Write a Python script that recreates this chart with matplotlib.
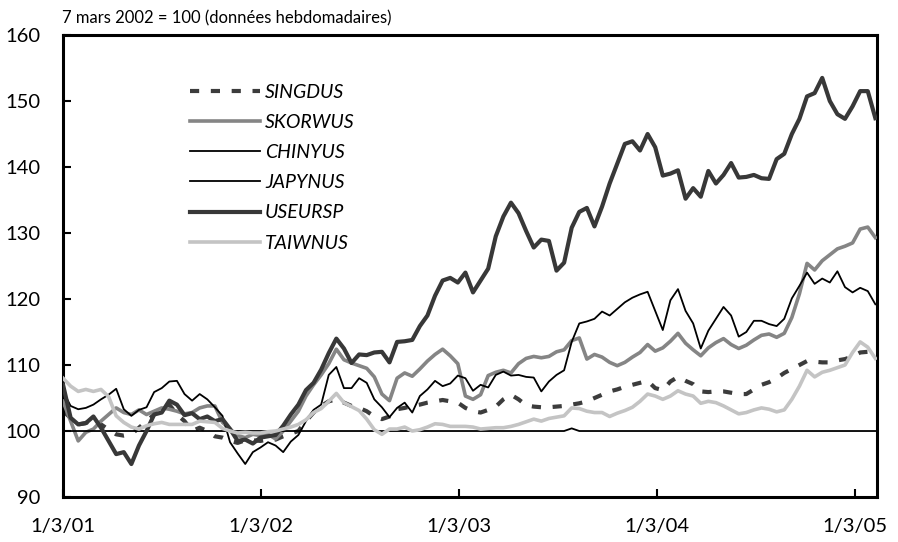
import matplotlib
matplotlib.use("Agg")
import matplotlib.pyplot as plt
import pandas as pd

# données bimensuelles (base 7 mars 2002 = 100)
dates = pd.date_range("2001-03-01", periods=108, freq="14D")

singdus = [103, 102, 101, 101.2, 101.8, 101, 100.2, 99.5, 99.3, 99.5,
           100.5, 101.5, 102.5, 103.5, 104, 102.5, 101.5, 100, 100.5, 100,
           99.2, 99, 98.5, 98.2, 98.6, 98.6, 98.5, 98.7, 98.7, 99.2,
           99.6, 100, 101.5, 102.8, 103.8, 104.5, 104.8, 104.3, 103.8, 103.5,
           103, 102.2, 101.8, 102.2, 103.3, 103.5, 103.8, 104, 104.3, 104.5,
           104.7, 104.5, 104.3, 103.5, 103, 102.8, 103.2, 103.7, 104.8, 105.5,
           104.8, 103.9, 103.7, 103.6, 103.6, 103.7, 103.8, 104, 104.2, 104.5,
           105, 105.5, 106, 106.3, 106.7, 107, 107.3, 107.6, 106.5, 106.2,
           107.5, 108.2, 107.6, 107.1, 106, 105.9, 106, 106, 105.8, 105.6,
           105.6, 106.3, 107, 107.4, 108, 108.8, 109.4, 110, 110.6, 110.5,
           110.4, 110.4, 110.7, 110.9, 111.3, 111.9, 112, 111.5]

skorwus = [104.5, 101.5, 98.5, 99.8, 100.3, 101.5, 102.5, 103.5, 102.8, 102.5,
           103.2, 102.5, 103, 103.5, 103.3, 103, 102.6, 102.8, 103.5, 103.8,
           103.8, 101.3, 100.3, 99.3, 99, 99.5, 99.3, 99.5, 98.8, 100,
           101.5, 103, 105.3, 107, 108.5, 110.2, 112.4, 110.8, 110.3, 109.9,
           109.5, 108.2, 105.6, 104.6, 108, 108.8, 108.3, 109.4, 110.6, 111.6,
           112.4, 111.4, 110.2, 105.3, 104.8, 105.5, 108.4, 108.9, 109.2, 108.8,
           110.2, 111, 111.3, 111.1, 111.3, 112, 112.3, 113.7, 114.1, 110.9,
           111.6, 111.2, 110.4, 109.9, 110.4, 111.2, 111.9, 113.1, 112.1, 112.6,
           113.6, 114.8, 113.3, 112.3, 111.4, 112.6, 113.4, 114, 113.1, 112.5,
           113, 113.8, 114.5, 114.7, 114.2, 114.8, 117.2, 120.8, 125.4, 124.4,
           125.8, 126.7, 127.6, 128, 128.5, 130.6, 130.9, 129.3]

chinyus = [100.0, 100.0, 100.0, 100.0, 100.0, 100.0, 100.0, 100.0, 100.0, 100.0,
           100.0, 100.0, 100.0, 100.0, 100.0, 100.0, 100.0, 100.0, 100.0, 100.0,
           100.0, 100.0, 100.0, 100.0, 100.0, 100.0, 100.0, 100.0, 100.0, 100.0,
           100.0, 100.0, 100.0, 100.0, 100.0, 100.0, 100.0, 100.0, 100.0, 100.0,
           100.0, 100.0, 100.0, 100.0, 100.0, 100.0, 100.0, 100.0, 100.0, 100.0,
           100.0, 100.0, 100.0, 100.0, 100.0, 100.0, 100.0, 100.0, 100.0, 100.0,
           100.0, 100.0, 100.0, 100.0, 100.0, 100.0, 100.0, 100.4, 100.0, 100.0,
           100.0, 100.0, 100.0, 100.0, 100.0, 100.0, 100.0, 100.0, 100.0, 100.0,
           100.0, 100.0, 100.0, 100.0, 100.0, 100.0, 100.0, 100.0, 100.0, 100.0,
           100.0, 100.0, 100.0, 100.0, 100.0, 100.0, 100.0, 100.0, 100.0, 100.0,
           100.0, 100.0, 100.0, 100.0, 100.0, 100.0, 100.0, 100.0]

japynus = [106, 103.8, 103.3, 103.5, 104, 104.8, 105.5, 106.4, 103.3, 102.3,
           103.2, 103.6, 105.9, 106.5, 107.5, 107.6, 105.6, 104.6, 105.6, 104.8,
           103.6, 102.3, 98.3, 96.6, 95, 96.8, 97.5, 98.3, 97.8, 96.8,
           98.4, 99.4, 101.5, 103.2, 104, 108.5, 109.7, 106.5, 106.5, 108,
           107.3, 104.8, 103.6, 102.1, 103.5, 104.3, 102.8, 105.3, 106.3, 107.6,
           106.8, 107.2, 108.4, 108, 106.1, 107, 106.6, 108.5, 109, 108.4,
           108.5, 108.2, 108.1, 106, 107.5, 108.5, 109.2, 113.5, 116.3, 116.6,
           117, 118.1, 117.5, 118.5, 119.5, 120.2, 120.7, 121.1, 118.2, 115.3,
           119.8, 121.5, 118.2, 116.3, 112.5, 115.2, 117, 118.8, 117.5, 114.3,
           115, 116.7, 116.7, 116.2, 115.9, 117, 120.1, 122, 124, 122.3,
           123.1, 122.5, 124.2, 121.8, 121, 121.7, 121.2, 119.2]

useursp = [107, 102, 101, 101.2, 102.2, 100.5, 98.5, 96.5, 96.8, 95,
           97.8, 100, 102.5, 102.8, 104.6, 104, 102.4, 102.7, 101.8, 102.2,
           101.5, 101.8, 100.3, 98.5, 98.7, 98.1, 99, 99.2, 99.4, 100.8,
           102.5, 104, 106.2, 107.3, 109.3, 111.8, 114, 112.5, 110.3, 111.6,
           111.5, 111.9, 112, 110.4, 113.5, 113.6, 113.8, 115.9, 117.5, 120.5,
           122.8, 123.2, 122.5, 124, 121, 122.8, 124.6, 129.5, 132.5, 134.6,
           133, 130.3, 127.8, 129, 128.8, 124.3, 125.5, 130.8, 133.2, 133.8,
           131, 134, 137.5, 140.5, 143.5, 143.9, 142.5, 145, 143, 138.7,
           139, 139.5, 135.2, 136.8, 135.5, 139.4, 137.5, 138.8, 140.6, 138.4,
           138.5, 138.8, 138.3, 138.2, 141.2, 142, 145, 147.3, 150.7, 151.2,
           153.5, 150, 148, 147.3, 149.2, 151.5, 151.5, 147.4]

taiwnus = [108, 106.8, 106, 106.3, 106, 106.3, 105.2, 102.3, 101.3, 100.6,
           100.3, 100.8, 101.1, 101.3, 101, 101, 101, 101, 101.5, 101.4,
           101.3, 100.4, 100, 99.7, 99.8, 99.7, 99.7, 99.9, 100, 100.3,
           100.6, 101, 101.7, 102.8, 103.4, 104.5, 105.7, 104.3, 103.7, 103.1,
           101.8, 100.2, 99.5, 100.3, 100.3, 100.6, 100, 100.2, 100.6, 101.1,
           101, 100.7, 100.7, 100.7, 100.6, 100.3, 100.4, 100.5, 100.5, 100.7,
           101, 101.4, 101.8, 101.5, 101.9, 102.1, 102.3, 103.5, 103.4, 103,
           102.8, 102.8, 102.2, 102.7, 103.1, 103.6, 104.5, 105.6, 105.3, 104.8,
           105.3, 106.1, 105.6, 105.3, 104.2, 104.5, 104.3, 103.8, 103.2, 102.6,
           102.8, 103.2, 103.5, 103.3, 102.9, 103.2, 104.8, 106.8, 109.2, 108.2,
           108.9, 109.2, 109.6, 110, 111.9, 113.5, 112.7, 111]

tick_dates = ["2001-03-01", "2002-03-01", "2003-03-01", "2004-03-01", "2005-03-01"]
tick_labels = ["1/3/01", "1/3/02", "1/3/03", "1/3/04", "1/3/05"]

plt.rcParams["font.family"] = ["Lato", "DejaVu Sans"]

fig = plt.figure(figsize=(8.98, 5.42), dpi=100)
ax = fig.add_axes([0.0702, 0.083, 0.9064, 0.8524])

ax.plot(dates, singdus, color="#3c3c3c", lw=3.0, dashes=(2.2, 2.8), label="SINGDUS", zorder=2)
ax.plot(dates, skorwus, color="#858585", lw=2.6, label="SKORWUS", zorder=3)
ax.plot(dates, chinyus, color="black", lw=1.3, label="CHINYUS", zorder=4)
ax.plot(dates, japynus, color="black", lw=1.3, label="JAPYNUS", zorder=5)
ax.plot(dates, useursp, color="#383838", lw=3.0, label="USEURSP", zorder=6)
ax.plot(dates, taiwnus, color="#c4c4c4", lw=2.6, label="TAIWNUS", zorder=7)

ax.set_ylim(90, 160)
ax.set_yticks(range(90, 161, 10))
ax.set_xlim(pd.Timestamp("2001-03-01"), pd.Timestamp("2005-04-10"))
ax.set_xticks(pd.to_datetime(tick_dates))
ax.set_xticklabels(tick_labels)

for s in ax.spines.values():
    s.set_linewidth(2.2)
ax.tick_params(axis="both", direction="in", length=6, width=1.5, labelsize=14.5)
ax.tick_params(axis="x", pad=15)
ax.tick_params(axis="y", pad=16)

fig.text(0.069, 0.952, "7 mars 2002 = 100 (données hebdomadaires)", fontsize=12, ha="left", va="bottom")

leg = ax.legend(loc="upper left", bbox_to_anchor=(0.156, 0.895), frameon=False,
                handlelength=3.6, handletextpad=0.25, labelspacing=0.68,
                borderpad=0, borderaxespad=0, prop={"style": "italic", "size": 14})

fig.savefig("out.png", dpi=100)
